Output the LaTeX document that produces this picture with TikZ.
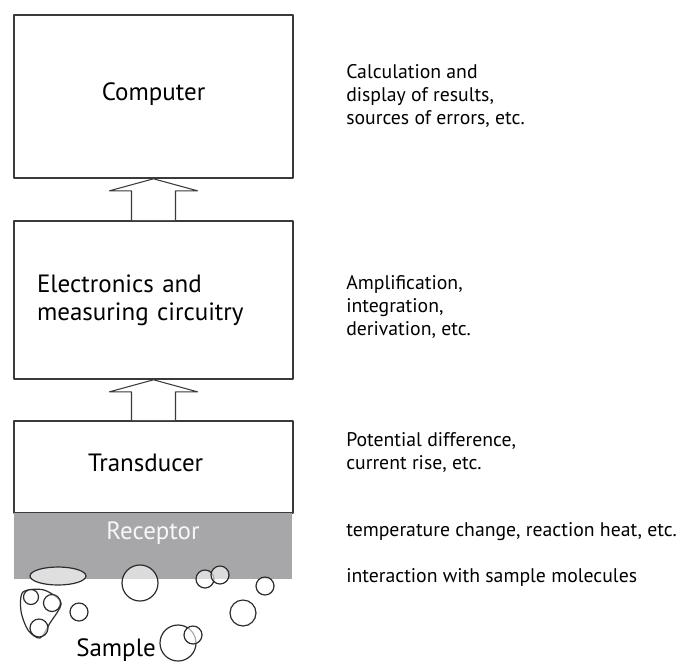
\documentclass[tikz,border=0pt]{standalone}
\usepackage{fontspec}
\setmainfont{PT Sans}
\usetikzlibrary{calc,positioning}
\definecolor{rcpgray}{RGB}{167,167,169}
\definecolor{edgegray}{RGB}{58,58,58}
\definecolor{molgray}{RGB}{45,45,45}
\tikzset{px/.style={
  x=0.75pt,y=-0.75pt,
  line join=round,line cap=round
}}
\tikzset{
  stage/.style={draw=edgegray,line width=1.2pt,minimum width=209.25pt,inner sep=0pt,
    font=\fontsize{18.75}{21}\selectfont},
  hollowarrow/.style={draw=edgegray,line width=0.8pt,fill=white},
  note/.style={anchor=west,align=left,inner sep=0pt,
    font=\fontsize{14.8}{17.25}\selectfont},
  molecule/.style={draw=molgray,line width=0.9pt,fill=white,fill opacity=0.6}
}

\begin{document}
\begin{tikzpicture}[px]
  \useasboundingbox (0,0) rectangle (684,664);

  % measuring chain
  \node[stage,minimum height=122.25pt,text depth=7pt] (computer) at (153.5,96.5) {Computer};
  \node[stage,minimum height=118.5pt,text width=174.75pt,align=left] (electronics) at (153.5,300)
    {Electronics and\\measuring circuitry};
  \node[stage,minimum height=69pt,text width=98.25pt,align=left,text depth=7pt] (transducer)
    at (153.5,467) {Transducer};
  \node[fill=rcpgray,minimum width=208.5pt,minimum height=49.5pt,inner sep=0pt,anchor=north]
    (receptor) at (153,513) {};
  \node[below=3pt of receptor.north,text=white!94!gray,font=\fontsize{18.75}{21}\selectfont]
    (receptortext) {Receptor};

  % signal flow
  \draw[hollowarrow] ($(electronics.north)+(-22,0)$) |- ($(computer.south)+(-44,12)$)
    -- (computer.south) -- ($(computer.south)+(44,12)$) -| ($(electronics.north)+(22,0)$);
  \draw[hollowarrow] ($(transducer.north)+(-22,0)$) |- ($(electronics.south)+(-44,12)$)
    -- (electronics.south) -- ($(electronics.south)+(44,12)$) -| ($(transducer.north)+(22,0)$);

  % sample molecules
  \draw[molecule,fill=gray!25,fill opacity=1] (58,576) ellipse (28 and 9);
  \draw[molecule] (140,583) circle (18);
  \draw[molecule] (205,579) circle (9);
  \draw[molecule] (220,575) circle (9);
  \draw[molecule] (265,586) circle (9);
  \draw[molecule,fill=none] plot[smooth cycle] coordinates
    {(23,592) (44,590) (61,603) (50,623) (40,638) (28,630) (21,611)};
  \draw[molecule] (31,597) circle (7.5);
  \draw[molecule] (52,603) circle (8.5);
  \draw[molecule] (39,628) circle (9);
  \draw[molecule] (79,612) circle (9);
  \draw[molecule] (243,613) circle (13);
  \draw[molecule] (178,643) circle (18);
  \draw[molecule] (193,635) circle (9);
  \node[font=\fontsize{18.75}{21}\selectfont] (sample) at (116,650) {Sample};

  % what happens at each stage
  \node[note] (calc) at (346,96) {Calculation and\\display of results,\\sources of errors, etc.};
  \node[note] (amp) at (346,306.5) {Amplification,\\integration,\\derivation, etc.};
  \node[note] (signal) at (346,452.5) {Potential difference,\\current rise, etc.};
  \node[note] (heat) at (346,532) {temperature change, reaction heat, etc.};
  \node[note] (interact) at (346,577) {interaction with sample molecules};
\end{tikzpicture}
\end{document}
